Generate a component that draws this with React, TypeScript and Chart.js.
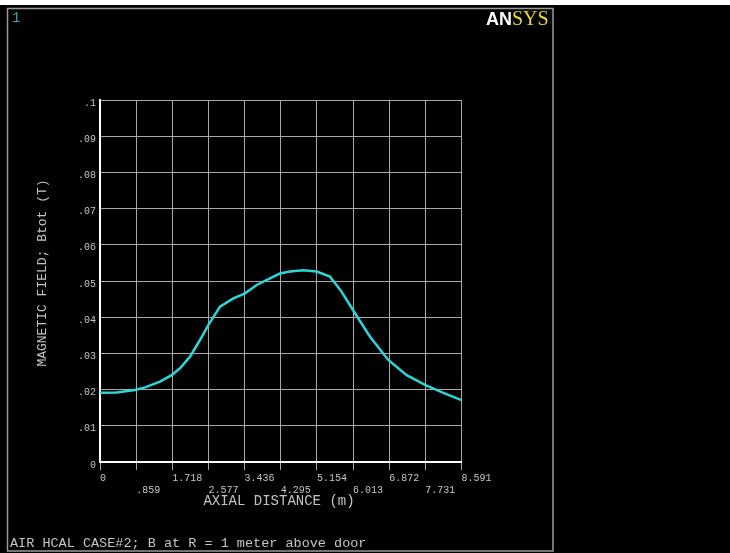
import React, { useEffect, useRef } from 'react';
import { Chart, registerables } from 'chart.js';

Chart.register(...registerables);

// Path data: axial distance (m) vs magnetic field Btot (T)
const distance = [0, 0.397, 0.832, 1.069, 1.426, 1.704, 1.901, 2.139, 2.376, 2.574, 2.852, 3.168, 3.446, 3.724, 4.04, 4.278, 4.515, 4.832, 5.15, 5.466, 5.744, 6.06, 6.417, 6.851, 7.289, 7.724, 8.159, 8.591];
const bField = [0.0191, 0.0192, 0.0199, 0.0206, 0.0222, 0.024, 0.0259, 0.0291, 0.0337, 0.0378, 0.0429, 0.0452, 0.0466, 0.0489, 0.0507, 0.0521, 0.0526, 0.053, 0.0526, 0.0512, 0.047, 0.0411, 0.0346, 0.0282, 0.024, 0.0213, 0.0191, 0.0171];

const xTickValues = [0, 0.8591, 1.7182, 2.5773, 3.4364, 4.2955, 5.1546, 6.0137, 6.8728, 7.7319, 8.591];
const xTickLabels = ['0', '.859', '1.718', '2.577', '3.436', '4.295', '5.154', '6.013', '6.872', '7.731', '8.591'];
const yTickValues = [0, 0.01, 0.02, 0.03, 0.04, 0.05, 0.06, 0.07, 0.08, 0.09, 0.1];
const yTickLabels = ['0', '.01', '.02', '.03', '.04', '.05', '.06', '.07', '.08', '.09', '.1'];

const xTitle = 'AXIAL DISTANCE (m)';
const yTitle = 'MAGNETIC FIELD; Btot (T)';
const caption = 'AIR HCAL CASE#2; B at R = 1 meter above door';
const windowNumber = '1';

const W = 730;
const H = 553;
const MONO = '"Liberation Mono", "DejaVu Sans Mono", monospace';
const TEXT = '#c4c4c4';
const GRID = '#a8a8a8';

const PLOT_LEFT = 100;
const PLOT_TOP = 100;
const PLOT_RIGHT = 461.5;
const PLOT_BOTTOM = 462;
const Y_AXIS_W = 60;
const X_AXIS_H = 40;

const framePlugin = {
  id: 'ansysFrame',
  beforeDraw(chart: any) {
    const ctx = chart.ctx;
    ctx.save();
    ctx.fillStyle = '#000';
    ctx.fillRect(0, 0, W, H);
    ctx.fillStyle = '#fff';
    ctx.fillRect(0, 0, W, 5);
    ctx.strokeStyle = '#9a9a9a';
    ctx.lineWidth = 1.5;
    ctx.strokeRect(7.5, 8.5, 545.5, 542.5);
    ctx.restore();
  },
  afterDraw(chart: any) {
    const ctx = chart.ctx;
    ctx.save();
    // window number
    ctx.fillStyle = '#3aa6a6';
    ctx.font = `14px ${MONO}`;
    ctx.textAlign = 'left';
    ctx.textBaseline = 'middle';
    ctx.fillText(windowNumber, 12, 18);
    // logo
    ctx.textBaseline = 'alphabetic';
    ctx.fillStyle = '#ffffff';
    ctx.font = 'bold 18px "Liberation Sans", Arial, sans-serif';
    ctx.textAlign = 'right';
    ctx.fillText('AN', 512, 25);
    ctx.fillStyle = '#e6dc2a';
    ctx.font = '20px "Liberation Serif", serif';
    ctx.textAlign = 'left';
    ctx.fillText('SYS', 512, 25);
    // axis titles
    ctx.fillStyle = TEXT;
    ctx.font = `14px ${MONO}`;
    ctx.textAlign = 'center';
    ctx.textBaseline = 'middle';
    ctx.fillText(xTitle, 279, 501);
    ctx.save();
    ctx.translate(43, 273);
    ctx.rotate(-Math.PI / 2);
    ctx.font = `13px ${MONO}`;
    ctx.fillText(yTitle, 0, 0);
    ctx.restore();
    // caption
    ctx.font = `13.5px ${MONO}`;
    ctx.textAlign = 'left';
    ctx.fillText(caption, 10, 543);
    ctx.restore();
  },
};

export default function App() {
  const ref = useRef<HTMLCanvasElement>(null);

  useEffect(() => {
    if (!ref.current) return;
    const chart = new Chart(ref.current, {
      type: 'line',
      data: {
        datasets: [
          {
            data: distance.map((x, i) => ({ x, y: bField[i] })),
            borderColor: '#2bd6d6',
            borderWidth: 2.5,
            pointRadius: 0,
            tension: 0,
            fill: false,
          },
        ],
      },
      options: {
        animation: false,
        responsive: false,
        devicePixelRatio: 1,
        layout: {
          padding: {
            left: PLOT_LEFT - Y_AXIS_W,
            top: PLOT_TOP,
            right: W - PLOT_RIGHT,
            bottom: H - PLOT_BOTTOM - X_AXIS_H,
          },
        },
        plugins: { legend: { display: false }, tooltip: { enabled: false } },
        scales: {
          x: {
            type: 'linear',
            min: 0,
            max: 8.591,
            afterFit: (s: any) => { s.height = X_AXIS_H; },
            afterBuildTicks: (s: any) => { s.ticks = xTickValues.map((v) => ({ value: v })); },
            grid: { color: GRID, lineWidth: 1, drawTicks: true, tickLength: 8, tickColor: GRID },
            border: { color: '#ffffff', width: 2 },
            ticks: {
              autoSkip: false,
              maxRotation: 0,
              minRotation: 0,
              align: 'start',
              padding: 3,
              color: TEXT,
              font: { family: MONO, size: 10, lineHeight: 1.15 },
              callback: (_v: any, i: number) => (i % 2 === 0 ? xTickLabels[i] : ['', xTickLabels[i]]),
            },
          },
          y: {
            type: 'linear',
            min: 0,
            max: 0.1,
            afterFit: (s: any) => { s.width = Y_AXIS_W; },
            afterBuildTicks: (s: any) => { s.ticks = yTickValues.map((v) => ({ value: v })); },
            grid: { color: GRID, lineWidth: 1, drawTicks: false },
            border: { color: '#ffffff', width: 2 },
            ticks: {
              autoSkip: false,
              padding: 4,
              labelOffset: 3,
              color: TEXT,
              font: { family: MONO, size: 10 },
              callback: (_v: any, i: number) => yTickLabels[i],
            },
          },
        },
      },
      plugins: [framePlugin],
    } as any);
    return () => chart.destroy();
  }, []);

  return (
    <div style={{ position: 'fixed', left: 0, top: 0, width: W, height: H, background: '#000' }}>
      <canvas ref={ref} width={W} height={H} style={{ display: 'block', width: W, height: H }} />
    </div>
  );
}
